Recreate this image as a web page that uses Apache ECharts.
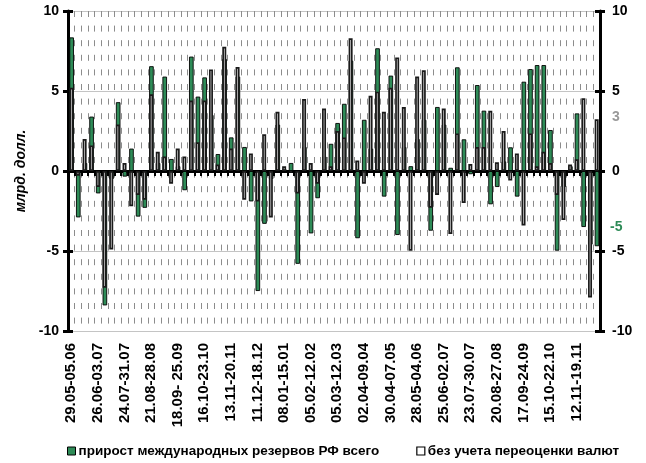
<!DOCTYPE html>
<html>
<head>
<meta charset="utf-8">
<script src="https://cdn.jsdelivr.net/npm/echarts@6/dist/echarts.min.js"></script>
<style>
html,body{margin:0;padding:0;background:#fff}
#main{width:646px;height:463px}
</style>
</head>
<body>
<div id="main"></div>
<script>
// weekly periods, 2006-2007
const weeks = [
  "29.05-05.06","05.06-12.06","12.06-19.06","19.06-26.06","26.06-03.07","03.07-10.07","10.07-17.07","17.07-24.07",
  "24.07-31.07","31.07-07.08","07.08-14.08","14.08-21.08","21.08-28.08","28.08-04.09","04.09-11.09","11.09-18.09",
  "18.09- 25.09","25.09-02.10","02.10-09.10","09.10-16.10","16.10-23.10","23.10-30.10","30.10-06.11","06.11-13.11",
  "13.11-20.11","20.11-27.11","27.11-04.12","04.12-11.12","11.12-18.12","18.12-25.12","25.12-01.01","01.01-08.01",
  "08.01-15.01","15.01-22.01","22.01-29.01","29.01-05.02","05.02-12.02","12.02-19.02","19.02-26.02","26.02-05.03",
  "05.03-12.03","12.03-19.03","19.03-26.03","26.03-02.04","02.04-09.04","09.04-16.04","16.04-23.04","23.04-30.04",
  "30.04-07.05","07.05-14.05","14.05-21.05","21.05-28.05","28.05-04.06","04.06-11.06","11.06-18.06","18.06-25.06",
  "25.06-02.07","02.07-09.07","09.07-16.07","16.07-23.07","23.07-30.07","30.07-06.08","06.08-13.08","13.08-20.08",
  "20.08-27.08","27.08-03.09","03.09-10.09","10.09-17.09","17.09-24.09","24.09-01.10","01.10-08.10","08.10-15.10",
  "15.10-22.10","22.10-29.10","29.10-05.11","05.11-12.11","12.11-19.11","19.11-26.11","26.11-03.12","03.12-10.12"
];

// прирост резервов всего, млрд долл.
const totalGrowth = [
  8.35,-2.9,0.5,3.4,-1.4,-8.4,-0.5,4.3, -0.35,1.4,-2.85,-2.3,6.55,0.5,5.9,0.75,
  0.3,-1.2,7.15,4.65,5.85,3.5,1.06,7.0, 2.1,5.9,1.5,-1.9,-7.5,-3.3,-0.5,2.9,
  0.1,0.5,-5.8,1.5,-3.9,-1.7,0.9,1.7, 3.0,4.2,6.9,-4.2,3.2,1.4,7.67,-1.6,
  5.96,-4.0,1.5,0.3,2.0,3.2,-3.73,4.0, 2.9,0.2,6.48,1.98,-0.2,5.37,3.77,-2.08,
  -1.0,0.6,1.48,-1.6,5.58,6.37,6.62,6.62, 2.56,-4.98,-1.0,0.3,3.6,-3.5,-4.6,-4.7
];

// без учета переоценки валют
const exRevaluation = [
  5.2,-0.3,2.0,1.6,-1.0,-7.3,-4.9,2.9, 0.5,-2.2,-1.5,-1.8,4.8,1.2,0.9,-0.8,
  1.4,0.9,4.4,1.8,4.4,6.35,0.4,7.77, 1.4,6.5,-1.8,1.1,-1.9,2.3,-2.9,3.7,
  0.3,-0.1,-1.4,4.5,0.5,-0.8,3.9,0.3, 2.5,2.1,8.3,0.65,-0.8,4.7,4.96,3.7,
  5.2,7.1,4.0,-4.98,5.9,6.3,-2.3,-1.5, 3.9,-3.94,2.35,-2.0,0.44,1.5,1.5,3.77,
  0.54,2.5,-0.6,1.1,-3.4,2.35,0.3,1.2, 0.5,-1.5,-3.06,0.4,0.73,4.54,-7.9,3.23
];

const yTicks = { min: -10, max: 10, step: 5 };
const green = '#2e8b57';
const font = 'Arial, "Liberation Sans", sans-serif';
const seriesNames = ['прирост международных резервов РФ всего', 'без учета переоценки валют'];

const chart = echarts.init(document.getElementById('main'));

const yBase = {
  type: 'value', min: yTicks.min, max: yTicks.max, interval: yTicks.step
};

const option = {
  animation: false,
  textStyle: { fontFamily: font },
  grid: { left: 68, right: 46, top: 11, bottom: 132 },
  legend: {
    left: 62, top: 439,
    itemWidth: 8, itemHeight: 8, itemGap: 37,
    icon: 'rect',
    data: [
      { name: seriesNames[0], itemStyle: { color: green, borderColor: '#000', borderWidth: 1 } },
      { name: seriesNames[1], itemStyle: { color: '#fff', borderColor: '#000', borderWidth: 1.2 } }
    ],
    textStyle: { fontFamily: font, fontSize: 13.5, fontWeight: 'bold', color: '#000', padding: [0, 0, 0, -2] }
  },
  xAxis: [
    {
      type: 'category', data: weeks, position: 'bottom',
      axisLine: { show: false, onZero: false },
      axisTick: { show: false },
      axisLabel: {
        interval: 3, rotate: 90, margin: 12,
        fontFamily: font, fontSize: 15, fontWeight: 'bold', color: '#000'
      },
      splitLine: { show: true, interval: 0, lineStyle: { color: '#8c8c8c', width: 1, type: [6, 8.6] } }
    },
    {
      type: 'category', data: weeks, position: 'top',
      axisLine: { show: true, onZero: true, lineStyle: { color: '#000', width: 3 } },
      axisTick: { show: true, inside: true, interval: 0, length: 5, lineStyle: { color: '#000', width: 2 } },
      axisLabel: { show: false },
      splitLine: { show: false }
    }
  ],
  yAxis: [
    Object.assign({}, yBase, {
      position: 'left',
      name: 'млрд. долл.', nameLocation: 'middle', nameGap: 40, nameRotate: 90,
      nameTextStyle: { fontFamily: font, fontSize: 14, fontWeight: 'bold', fontStyle: 'italic', color: '#000' },
      axisLine: { show: true, lineStyle: { color: '#000', width: 3 } },
      axisTick: { show: true, length: 5, lineStyle: { color: '#000', width: 3 } },
      axisLabel: { margin: 9, fontFamily: font, fontSize: 14, fontWeight: 'bold', color: '#000' },
      splitLine: { show: true, lineStyle: { color: '#c4c4c4', width: 1 } }
    }),
    Object.assign({}, yBase, {
      position: 'right',
      axisLine: { show: true, lineStyle: { color: '#000', width: 3 } },
      axisTick: { show: true, length: 5, lineStyle: { color: '#000', width: 3 } },
      axisLabel: { margin: 12, fontFamily: font, fontSize: 14, fontWeight: 'bold', color: '#000' },
      splitLine: { show: false }
    }),
    Object.assign({}, yBase, {
      position: 'left',
      axisLine: { show: false },
      axisTick: { show: true, inside: true, length: 5, lineStyle: { color: '#000', width: 3 } },
      axisLabel: { show: false },
      splitLine: { show: false }
    }),
    Object.assign({}, yBase, {
      position: 'right',
      axisLine: { show: false },
      axisTick: { show: true, inside: true, length: 5, lineStyle: { color: '#000', width: 3 } },
      axisLabel: { show: false },
      splitLine: { show: false }
    })
  ],
  series: [
    {
      name: seriesNames[0],
      type: 'bar', xAxisIndex: 0, yAxisIndex: 0,
      data: totalGrowth,
      barWidth: 4.6, barGap: '-100%',
      itemStyle: { color: green, borderColor: '#000', borderWidth: 0.9 }
    },
    {
      name: seriesNames[1],
      type: 'bar', xAxisIndex: 0, yAxisIndex: 0,
      data: exRevaluation,
      barWidth: 4, barGap: '-100%',
      itemStyle: { color: '#fff', borderColor: '#1a1a1a', borderWidth: 1.7 }
    }
  ],
  graphic: [
    { type: 'text', left: 612, top: 110, style: { text: '3', fill: '#999', font: 'bold 14px ' + font } },
    { type: 'text', left: 610, top: 220, style: { text: '-5', fill: green, font: 'bold 14px ' + font } }
  ]
};

chart.setOption(option);
</script>
</body>
</html>
